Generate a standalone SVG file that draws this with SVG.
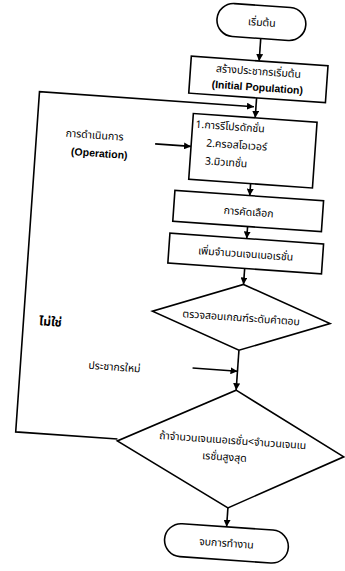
<svg xmlns="http://www.w3.org/2000/svg" width="345" height="571" viewBox="0 0 345 571">
<defs>
<marker id="ah" viewBox="0 0 10 10" refX="10" refY="5" markerWidth="7" markerHeight="7" orient="auto" markerUnits="userSpaceOnUse">
<path d="M0,0 L10,5 L0,10 z" fill="#000"/>
</marker>
<style>
.s{fill:#fff;stroke:#000;stroke-width:1.6}
.c{fill:none;stroke:#000;stroke-width:1.6}
.t{font-family:"Noto Sans Thai","Noto Sans","DejaVu Sans","Liberation Sans",sans-serif;font-size:10.5px;fill:#000;text-anchor:middle}
.e{font-family:"Liberation Sans",Arial,sans-serif;font-size:10.5px;font-weight:bold;fill:#000;text-anchor:middle}
.l{text-anchor:start}
.b{font-weight:bold;font-size:12px}
</style>
</defs>
<rect width="345" height="571" fill="#fff"/>
<g transform="rotate(4 180 290)">
<g id="connectors">
<line class="c" x1="243" y1="33" x2="243" y2="56" marker-end="url(#ah)"/>
<line class="c" x1="243" y1="93" x2="243" y2="113" marker-end="url(#ah)"/>
<polyline class="c" points="128,443 26,443 26,102 241,102" marker-end="url(#ah)"/>
<line class="c" x1="145" y1="146" x2="181" y2="146" marker-end="url(#ah)"/>
<line class="c" x1="243" y1="179" x2="243" y2="191" marker-end="url(#ah)"/>
<line class="c" x1="243" y1="222" x2="243" y2="234" marker-end="url(#ah)"/>
<line class="c" x1="243" y1="264" x2="243" y2="280" marker-end="url(#ah)"/>
<line class="c" x1="243" y1="346" x2="243" y2="386" marker-end="url(#ah)"/>
<line class="c" x1="198" y1="367" x2="243" y2="367" marker-end="url(#ah)"/>
<line class="c" x1="243" y1="504" x2="243" y2="523" marker-end="url(#ah)"/>
</g>
<g id="start">
<rect class="s" x="198" y="0.5" width="89" height="33" rx="16.5"/>
<text class="t" x="243" y="21">เริ่มต้น</text>
</g>
<g id="init">
<rect class="s" x="175" y="56" width="137" height="37"/>
<text class="t" x="243" y="70">สร้างประชากรเริ่มต้น</text>
<text class="e" x="243" y="86">(Initial Population)</text>
</g>
<g id="operation-label">
<text class="t" x="84" y="145">การดำเนินการ</text>
<text class="e" x="90" y="163">(Operation)</text>
</g>
<g id="operations">
<rect class="s" x="181" y="113" width="124" height="66"/>
<text class="t l" x="184" y="127">1.การรีโปรดักชั่น</text>
<text class="t l" x="196" y="145">2.ครอสโอเวอร์</text>
<text class="t l" x="196" y="163">3.มิวเทชั่น</text>
</g>
<g id="selection">
<rect class="s" x="168" y="191" width="149" height="31"/>
<text class="t" x="243" y="211">การคัดเลือก</text>
</g>
<g id="increase">
<rect class="s" x="166" y="234" width="154" height="30"/>
<text class="t" x="243" y="253">เพิ่มจำนวนเจนเนอเรชั่น</text>
</g>
<g id="check">
<polygon class="s" points="243,280 332,313 243,346 154,313"/>
<text class="t" x="243" y="317">ตรวจสอบเกณฑ์ระดับคำตอบ</text>
</g>
<g id="new-pop">
<text class="t" x="120" y="375">ประชากรใหม่</text>
</g>
<g id="no-label">
<text class="t b" x="53" y="335">ไม่ใช่</text>
</g>
<g id="loop-check">
<polygon class="s" points="243,386 355,445 243,504 128,445"/>
<text class="t" x="243" y="440">ถ้าจำนวนเจนเนอเรชั่น&lt;จำนวนเจนเน</text>
<text class="t" x="236" y="457">เรชั่นสูงสุด</text>
</g>
<g id="end">
<rect class="s" x="182" y="523" width="124" height="33" rx="16.5"/>
<text class="t" x="244" y="543">จบการทำงาน</text>
</g>
</g>
</svg>
